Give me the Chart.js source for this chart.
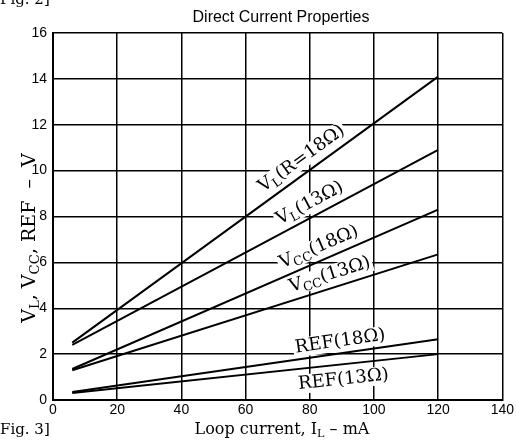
<!DOCTYPE html>
<html>
<head>
<meta charset="utf-8">
<script src="https://cdn.jsdelivr.net/npm/chart.js@4"></script>
<style>
  html, body { margin: 0; padding: 0; background: #fff; }
  #wrap { width: 516px; height: 444px; }
</style>
</head>
<body>
<div id="wrap"><canvas id="chart"></canvas></div>
<script>
// loop current (mA) at the ends of each line
const currents = [6, 120];
// volts
const vl18 = [2.5, 14.1];
const vl13 = [2.4, 10.9];
const vcc18 = [1.35, 8.3];
const vcc13 = [1.3, 6.35];
const ref18 = [0.35, 2.65];
const ref13 = [0.3, 2.0];

const series = [vl18, vl13, vcc18, vcc13, ref18, ref13];
// label text, split into [text, isSubscript]
const seriesLabels = [
  [["V", 0], ["L", 1], ["(R=18Ω)", 0]],
  [["V", 0], ["L", 1], ["(13Ω)", 0]],
  [["V", 0], ["CC", 1], ["(18Ω)", 0]],
  [["V", 0], ["CC", 1], ["(13Ω)", 0]],
  [["REF(18Ω)", 0]],
  [["REF(13Ω)", 0]],
];
const xTicks = [0, 20, 40, 60, 80, 100, 120, 140];
const yTicks = [0, 2, 4, 6, 8, 10, 12, 14, 16];

// where along each line the label sits (mA) and its offset from the line (px, + is above)
const labelPlace = [
  { at: 80, off: 15 },
  { at: 82, off: 14.5 },
  { at: 84.5, off: 14.5 },
  { at: 87.5, off: 14.5 },
  { at: 90, off: 13 },
  { at: 90, off: -14 },
];

const SERIF = "'DejaVu Serif', serif";
const LABEL_SIZE = 18;

function partsWidth(ctx, parts, size) {
  let total = 0;
  parts.forEach(([t, sub]) => {
    ctx.font = (sub ? size * 0.7 : size) + "px " + SERIF;
    total += ctx.measureText(t).width;
  });
  return total;
}

function drawParts(ctx, parts, size, align) {
  const total = partsWidth(ctx, parts, size);
  let x = align === "center" ? -total / 2 : 0;
  ctx.textBaseline = "alphabetic";
  ctx.textAlign = "left";
  parts.forEach(([t, sub]) => {
    ctx.font = (sub ? size * 0.7 : size) + "px " + SERIF;
    ctx.fillText(t, x, sub ? size * 0.2 : 0);
    x += ctx.measureText(t).width;
  });
}

// move ctx to the label's baseline frame for series i
function labelFrame(chart, ctx, i) {
  const xs = chart.scales.x, ys = chart.scales.y;
  const vals = series[i];
  const x0 = xs.getPixelForValue(currents[0]), x1 = xs.getPixelForValue(currents[1]);
  const y0 = ys.getPixelForValue(vals[0]), y1 = ys.getPixelForValue(vals[1]);
  const ang = Math.atan2(y1 - y0, x1 - x0);
  const p = labelPlace[i];
  const px = xs.getPixelForValue(p.at);
  const py = y0 + (y1 - y0) * (px - x0) / (x1 - x0);
  ctx.translate(px, py);
  ctx.rotate(ang);
  ctx.translate(0, -p.off + 6);
}

const textPlugin = {
  id: "textPlugin",
  beforeDatasetsDraw(chart) {
    // white boxes behind the labels break the grid lines
    const ctx = chart.ctx;
    series.forEach((vals, i) => {
      ctx.save();
      labelFrame(chart, ctx, i);
      const w = partsWidth(ctx, seriesLabels[i], LABEL_SIZE);
      ctx.fillStyle = "#fff";
      ctx.fillRect(-w / 2 - 2, -LABEL_SIZE * 0.78, w + 4, LABEL_SIZE * 1.05);
      ctx.restore();
    });
  },
  afterDatasetsDraw(chart) {
    const ctx = chart.ctx;
    series.forEach((vals, i) => {
      ctx.save();
      ctx.fillStyle = "#000";
      labelFrame(chart, ctx, i);
      drawParts(ctx, seriesLabels[i], LABEL_SIZE, "center");
      ctx.restore();
    });
  },
  afterDraw(chart) {
    const ctx = chart.ctx;
    ctx.save();
    ctx.fillStyle = "#000";
    // title
    ctx.font = "16px 'Liberation Sans', Arial, sans-serif";
    ctx.textAlign = "center";
    ctx.textBaseline = "alphabetic";
    ctx.fillText("Direct Current Properties", 281, 22);
    // figure marks
    ctx.font = "15px " + SERIF;
    ctx.textAlign = "left";
    ctx.fillText("Fig. 2]", 0, 4);
    ctx.fillText("Fig. 3]", 0, 434);
    // x title
    ctx.save();
    ctx.translate(282, 434);
    drawParts(ctx, [["Loop current, I", 0], ["L", 1], [" – mA", 0]], 16, "center");
    ctx.restore();
    // y title
    ctx.save();
    ctx.translate(35, 238);
    ctx.rotate(-Math.PI / 2);
    drawParts(ctx, [["V", 0], ["L", 1], [", V", 0], ["CC", 1], [", REF  –  V", 0]], 19, "center");
    ctx.restore();
    ctx.restore();
  },
};

new Chart(document.getElementById("chart"), {
  type: "line",
  data: {
    datasets: series.map((vals) => ({
      data: currents.map((c, j) => ({ x: c, y: vals[j] })),
      borderColor: "#000",
      borderWidth: 2,
      pointRadius: 0,
      fill: false,
    })),
  },
  options: {
    responsive: true,
    maintainAspectRatio: false,
    animation: false,
    layout: { padding: { top: 33, right: 10, left: 0, bottom: 0 } },
    plugins: {
      legend: { display: false },
      tooltip: { enabled: false },
      title: { display: false },
    },
    scales: {
      x: {
        type: "linear",
        min: 0,
        max: 140,
        afterBuildTicks: (s) => { s.ticks = xTicks.map((v) => ({ value: v })); },
        afterFit: (s) => { s.height = 44; },
        grid: { color: "#000", lineWidth: 1.5, drawTicks: false },
        border: { color: "#000", width: 2 },
        ticks: {
          color: "#000",
          padding: 2,
          maxRotation: 0,
          font: { family: "'Liberation Sans', Arial, sans-serif", size: 14 },
        },
      },
      y: {
        min: 0,
        max: 16,
        afterBuildTicks: (s) => { s.ticks = yTicks.map((v) => ({ value: v })); },
        afterFit: (s) => { s.width = 53; },
        grid: { color: "#000", lineWidth: 1.5, drawTicks: false },
        border: { color: "#000", width: 2 },
        ticks: {
          color: "#000",
          padding: 6,
          font: { family: "'Liberation Sans', Arial, sans-serif", size: 14 },
        },
      },
    },
  },
  plugins: [textPlugin],
});
</script>
</body>
</html>
